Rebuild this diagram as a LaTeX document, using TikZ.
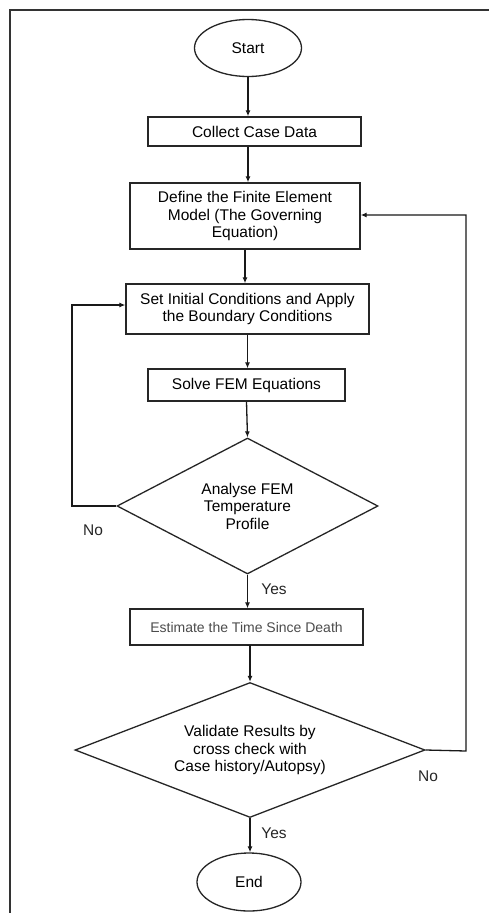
\documentclass[tikz,border=0pt]{standalone}
\usepackage{fontspec}
\setmainfont{Liberation Sans}
\usetikzlibrary{shapes.geometric,arrows.meta}
\begin{document}
\begin{tikzpicture}[x=1pt,y=-1pt,
  font=\fontsize{15.5pt}{17.5pt}\selectfont,
  box/.style={draw=black!85,line width=1.3pt,rectangle,inner sep=0pt,align=center},
  term/.style={draw=black!85,line width=1.3pt,ellipse,inner sep=0pt},
  dec/.style={draw=black!85,line width=1.3pt,diamond,inner sep=0pt,align=center},
  conn/.style={draw=black!90,line width=1.3pt,-{Latex[length=6pt,width=5pt]}},
  lbl/.style={font=\fontsize{15.5pt}{17pt}\selectfont,text=black!85}]
\useasboundingbox (0,0) rectangle (489,913);
\fill[white] (0,0) rectangle (489,913);
% outer frame (open at right and bottom)
\draw[line width=2pt,black!80] (10,913) -- (10,10) -- (489,10);

\node[term,minimum width=107pt,minimum height=57pt] (start) at (248,48) {Start};
\node[box,minimum width=213pt,minimum height=29pt] (collect) at (254.5,131.5) {Collect Case Data};
\node[box,minimum width=230pt,minimum height=66pt] (define) at (245,216) {Define the Finite Element\\Model (The Governing\\Equation)};
\node[box,minimum width=243pt,minimum height=50pt] (init) at (247.5,309) {Set Initial Conditions and Apply\\the Boundary Conditions};
\node[box,minimum width=197pt,minimum height=32pt] (solve) at (246.5,385) {Solve FEM Equations};
\node[dec,minimum width=261pt,minimum height=136pt,shape aspect=1.9] (analyse) at (247.5,506) {Analyse FEM\\Temperature\\Profile};
\node[box,minimum width=233pt,minimum height=36pt,font=\fontsize{14pt}{16pt}\selectfont,text=black!70] (estimate) at (246.5,627) {Estimate the Time Since Death};
\node[dec,minimum width=350pt,minimum height=135pt,shape aspect=2.6] (validate) at (250,750) {Validate Results by\\cross check with\\Case history/Autopsy)};
\node[term,minimum width=104pt,minimum height=58pt] (end) at (249,882) {End};

\coordinate (lt) at (72,506);
\coordinate (lb) at (72,305);
\coordinate (rt) at (466,751);
\coordinate (rb) at (466,215);

\draw[conn] (start) -- (start.south |- collect.north);
\draw[conn] (collect.south -| start.south) -- (start.south |- define.north);
\draw[conn] (define.south) -- (define.south |- init.north);
\draw[conn] (init.south) -- (init.south |- solve.north);
\draw[conn] (solve.south) -- (analyse.north);
\draw[conn] (analyse.south) -- (analyse.south |- estimate.north);
\draw[conn] (estimate.south) -- (estimate.south -| validate.north) -- (validate.north);
\draw[conn] (validate.south) -- (validate.south |- end.north);
\draw[conn] (analyse.west) -- (lt) -- (lb) -- (lb -| init.west);
\draw[conn] (validate.east) -- (rt) -- (rb) -- (rb -| define.east);

\node[lbl] (no1) at (93,530) {No};
\node[lbl] (yes1) at (274,589) {Yes};
\node[lbl] (no2) at (428,776) {No};
\node[lbl] (yes2) at (274,833) {Yes};
\end{tikzpicture}
\end{document}
